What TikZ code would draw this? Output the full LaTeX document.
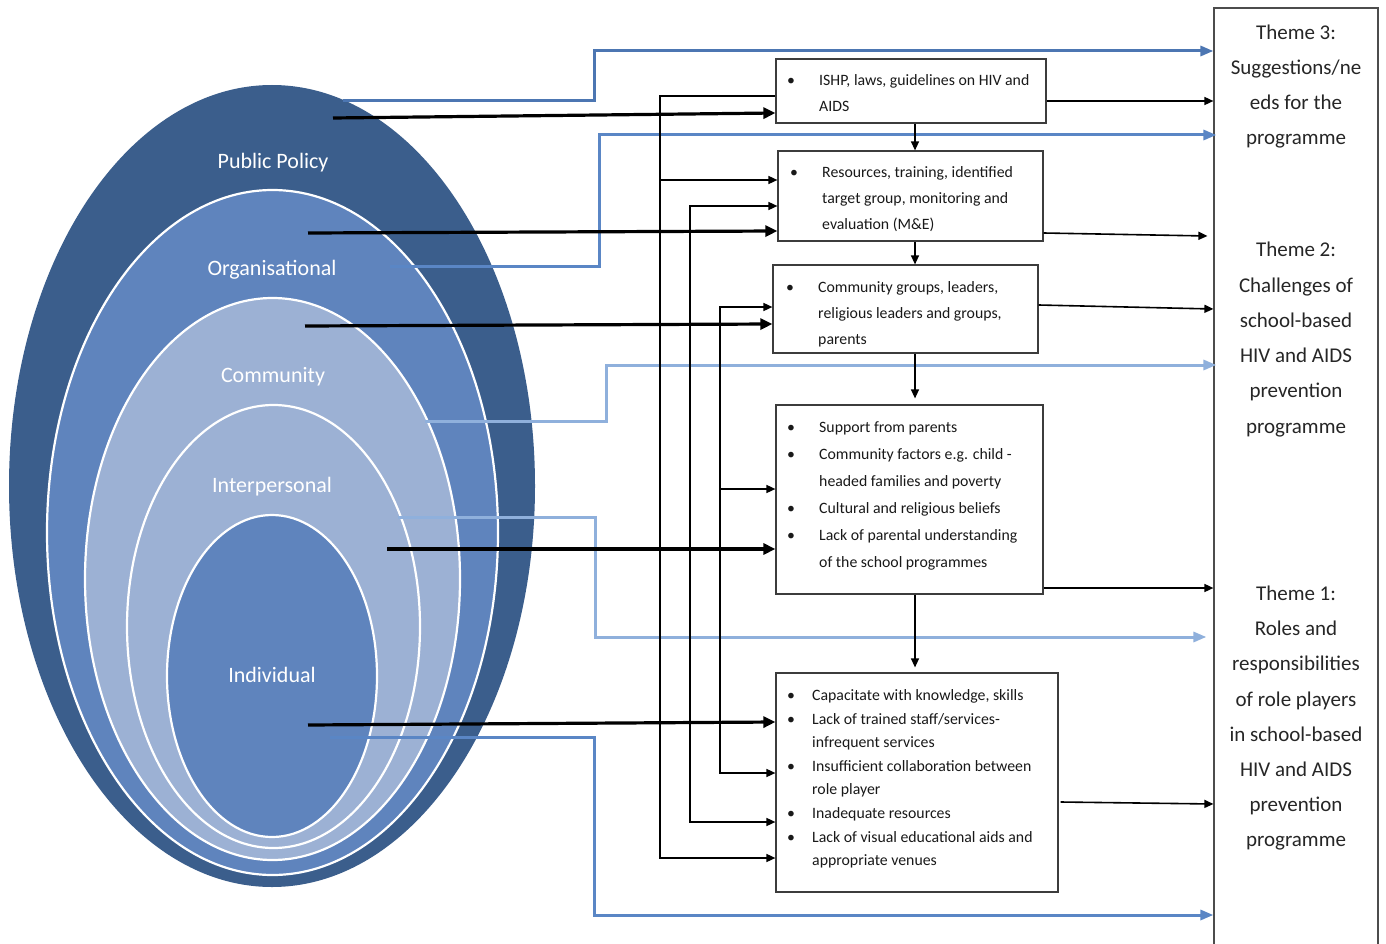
\documentclass[tikz,border=0pt]{standalone}
\usepackage{fontspec}
\setmainfont{Carlito}
\usetikzlibrary{shapes.geometric,arrows.meta,calc}
\definecolor{ppblue}{HTML}{3B5E8C}
\definecolor{orgblue}{HTML}{5F84BD}
\definecolor{comblue}{HTML}{9CB1D4}
\definecolor{lnA}{HTML}{4C76B2}
\definecolor{lnB}{HTML}{5A86C5}
\definecolor{lnC}{HTML}{8FB0DC}
\definecolor{boxline}{HTML}{3C3C3C}
\begin{document}
\begin{tikzpicture}[x=1pt,y=-1pt,
  ring/.style={ellipse, inner sep=0pt, draw=white, line width=2.2pt},
  lvl/.style={text=white, font=\fontsize{22}{26}\selectfont, anchor=mid, inner sep=0pt, yshift=-3.5pt},
  mbox/.style={rectangle, draw=boxline, line width=1.2pt, inner sep=0pt, fill=white},
  bline/.style={anchor=mid west, inner sep=0pt, font=\fontsize{15.8}{18}\selectfont, text=black!90, yshift=-3pt},
  tline/.style={anchor=mid, inner sep=0pt, font=\fontsize{21}{25}\selectfont, text=black!85, yshift=-3.5pt},
  thinln/.style={draw=black, line width=1.6pt},
  thinarr/.style={thinln, -{Triangle[length=9pt,width=8pt]}},
  heavy/.style={draw=black, line width=3.2pt, -{Triangle[length=12pt,width=11pt]}},
  barr/.style={line width=3pt, -{Triangle[length=13pt,width=10pt]}},
]
\useasboundingbox (0,0) rectangle (1386,944);
\fill[white] (0,0) rectangle (1386,944);

% ellipses
\node[ellipse, inner sep=0pt, fill=ppblue, minimum width=526pt, minimum height=802pt] (pp) at (272,486) {};
\node[ring, fill=orgblue, minimum width=451pt, minimum height=685pt] (org) at (272.5,532.5) {};
\node[ring, fill=comblue, minimum width=375pt, minimum height=562pt] (com) at (272.5,579) {};
\node[ring, fill=comblue, minimum width=293pt, minimum height=443pt] (int) at (273.5,626.5) {};
\node[ring, fill=orgblue, minimum width=210pt, minimum height=322pt] (ind) at (272,676) {};

\node[lvl] (ppl) at (273,163) {Public Policy};
\node[lvl] (orgl) at (272,270) {Organisational};
\node[lvl] (coml) at (273,377) {Community};
\node[lvl] (intl) at (272,487) {Interpersonal};
\node[lvl] (indl) at (272,677) {Individual};

% start points inside the ellipses
\coordinate (ppA) at (343,101);
\coordinate (ppB) at (333,118);
\coordinate (orgA) at (390,266);
\coordinate (orgB) at (308,233);
\coordinate (comA) at (425,421);
\coordinate (comB) at (305,326);
\coordinate (intA) at (398,517);
\coordinate (intB) at (387,549);
\coordinate (indA) at (330,737);
\coordinate (indB) at (308,725);

% boxes
\node[mbox, minimum width=270pt, minimum height=64pt] (b1) at (911,91) {};
\node[mbox, minimum width=265pt, minimum height=90pt] (b2) at (910.5,196) {};
\node[mbox, minimum width=265pt, minimum height=88pt] (b3) at (905.5,309) {};
\node[mbox, minimum width=267pt, minimum height=189pt] (b4) at (909.5,499.5) {};
\node[mbox, minimum width=282pt, minimum height=219pt] (b5) at (917,782.5) {};
\node[rectangle, draw=black!70, line width=1.2pt, inner sep=0pt, minimum width=164pt, minimum height=952pt] (theme) at (1296,484) {};

% box texts
\node[bline] (b1d1) at (787,80) {•};
\node[bline] (b1t1) at (819,80) {ISHP, laws, guidelines on HIV and};
\node[bline] (b1t2) at (819,106) {AIDS};

\node[bline] (b2d1) at (790,172) {•};
\node[bline] (b2t1) at (822,172) {Resources, training, identified};
\node[bline] (b2t2) at (822,198) {target group, monitoring and};
\node[bline] (b2t3) at (822,224) {evaluation (M\&E)};

\node[bline] (b3d1) at (786,287) {•};
\node[bline] (b3t1) at (818,287) {Community groups, leaders,};
\node[bline] (b3t2) at (818,313) {religious leaders and groups,};
\node[bline] (b3t3) at (818,339) {parents};

\node[bline] (b4d1) at (787,427) {•};
\node[bline] (b4t1) at (819,427) {Support from parents};
\node[bline] (b4d2) at (787,454) {•};
\node[bline] (b4t2) at (819,454) {Community factors e.g. child -};
\node[bline] (b4t3) at (819,481) {headed families and poverty};
\node[bline] (b4d3) at (787,508) {•};
\node[bline] (b4t4) at (819,508) {Cultural and religious beliefs};
\node[bline] (b4d4) at (787,535) {•};
\node[bline] (b4t5) at (819,535) {Lack of parental understanding};
\node[bline] (b4t6) at (819,562) {of the school programmes};

\node[bline] (b5d1) at (787,695) {•};
\node[bline] (b5t1) at (812,695) {Capacitate with knowledge, skills};
\node[bline] (b5d2) at (787,719) {•};
\node[bline] (b5t2) at (812,719) {Lack of trained staff/services-};
\node[bline] (b5t3) at (812,742) {infrequent services};
\node[bline] (b5d3) at (787,766) {•};
\node[bline] (b5t4) at (812,766) {Insufficient collaboration between};
\node[bline] (b5t5) at (812,789) {role player};
\node[bline] (b5d4) at (787,813) {•};
\node[bline] (b5t6) at (812,813) {Inadequate resources};
\node[bline] (b5d5) at (787,837) {•};
\node[bline] (b5t7) at (812,837) {Lack of visual educational aids and};
\node[bline] (b5t8) at (812,860) {appropriate venues};

% theme texts
\node[tline] (th3a) at (1296,34) {Theme 3:};
\node[tline] (th3b) at (1296,69) {Suggestions/ne};
\node[tline] (th3c) at (1296,104) {eds for the};
\node[tline] (th3d) at (1296,139) {programme};

\node[tline] (th2a) at (1296,251) {Theme 2:};
\node[tline] (th2b) at (1296,287) {Challenges of};
\node[tline] (th2c) at (1296,322) {school-based};
\node[tline] (th2d) at (1296,357) {HIV and AIDS};
\node[tline] (th2e) at (1296,392) {prevention};
\node[tline] (th2f) at (1296,428) {programme};

\node[tline] (th1a) at (1296,595) {Theme 1:};
\node[tline] (th1b) at (1296,630) {Roles and};
\node[tline] (th1c) at (1296,665) {responsibilities};
\node[tline] (th1d) at (1296,701) {of role players};
\node[tline] (th1e) at (1296,736) {in school-based};
\node[tline] (th1f) at (1296,771) {HIV and AIDS};
\node[tline] (th1g) at (1296,806) {prevention};
\node[tline] (th1h) at (1296,841) {programme};

% blue connectors
\draw[barr, lnA] (ppA) -- (594,101) -- (594,51) -- (theme.west |- 0,51);
\draw[barr, lnB] (orgA) -- (599,266) -- (599,135) -- ($(theme.west |- 0,135)+(3,0)$);
\draw[barr, lnC] (comA) -- (606,421) -- (606,365) -- ($(theme.west |- 0,365)+(3,0)$);
\draw[barr, lnC] (intA) -- (595,517) -- (595,637) -- ($(theme.west |- 0,637)+(-7,0)$);
\draw[barr, lnB] (indA) -- (594,737) -- (594,915) -- (theme.west |- 0,915);

% heavy black connectors
\draw[heavy] (ppB) -- (b1.west |- 0,113);
\draw[heavy] (orgB) -- (b2.west |- 0,231);
\draw[heavy] (comB) -- (b3.west |- 0,324);
\draw[heavy] (intB) -- (b4.west |- 0,549);
\draw[heavy] (indB) -- (b5.west |- 0,722);

% buses
\draw[thinarr] (b1.west |- 0,96) -- (660,96) -- (660,858) -- (b5.west |- 0,858);
\draw[thinarr] (660,180) -- (b2.west |- 0,180);
\draw[thinln, {Triangle[length=9pt,width=8pt]}-{Triangle[length=9pt,width=8pt]}] (b2.west |- 0,206) -- (690,206) -- (690,822) -- (b5.west |- 0,822);
\draw[thinln, {Triangle[length=9pt,width=8pt]}-{Triangle[length=9pt,width=8pt]}] (b3.west |- 0,307) -- (720,307) -- (720,773) -- (b5.west |- 0,773);
\draw[thinarr] (720,489) -- (b4.west |- 0,489);

% vertical flow
\coordinate (vx) at (915,0);
\draw[thinarr, line width=1.3pt] (b1.south -| vx) -- (b2.north -| vx);
\draw[thinarr, line width=1.3pt] (b2.south -| vx) -- (b3.north -| vx);
\draw[thinarr, line width=1.3pt] (b3.south -| vx) -- ($(b4.north -| vx)+(0,-6)$);
\draw[thinarr, line width=1.3pt] (b4.south -| vx) -- ($(b5.north -| vx)+(0,-5)$);

% to themes
\draw[thinarr] (b1.east |- 0,101) -- (theme.west |- 0,101);
\draw[thinarr] (b2.east |- 0,233) -- ($(theme.west |- 0,236)+(-6,0)$);
\draw[thinarr] (b3.east |- 0,305) -- (theme.west |- 0,309);
\draw[thinarr] (b4.east |- 0,588) -- (theme.west |- 0,588);
\draw[thinarr] ($(b5.east |- 0,802)+(2,0)$) -- (theme.west |- 0,804);
\end{tikzpicture}
\end{document}
